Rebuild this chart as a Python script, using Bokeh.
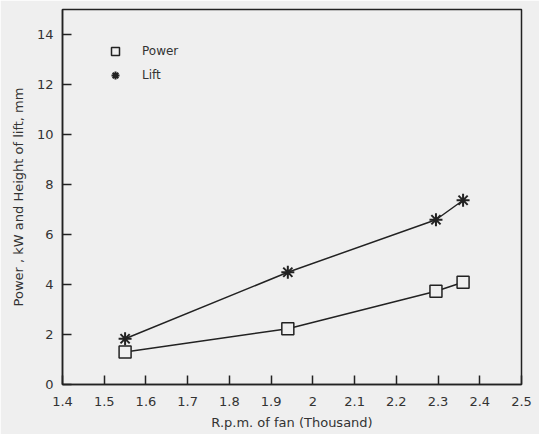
from bokeh.plotting import figure
from bokeh.models import FixedTicker, Legend, LegendItem
from bokeh.embed import file_html
from bokeh.resources import INLINE

rpm_power = [1.55, 1.94, 2.295, 2.36]
power_kw = [1.3, 2.23, 3.73, 4.09]
rpm_lift = [1.55, 1.94, 2.295, 2.36]
lift_mm = [1.83, 4.49, 6.59, 7.37]

x_ticks = [1.4, 1.5, 1.6, 1.7, 1.8, 1.9, 2.0, 2.1, 2.2, 2.3, 2.4, 2.5]
x_tick_labels = ["1.4", "1.5", "1.6", "1.7", "1.8", "1.9", "2", "2.1", "2.2", "2.3", "2.4", "2.5"]
y_ticks = [0, 2, 4, 6, 8, 10, 12, 14]

FONT = "DejaVu Sans"
BG = "#efefef"

p = figure(width=539, height=434, output_backend="svg", toolbar_location=None,
           x_range=(1.4, 2.5), y_range=(0, 15),
           min_border_left=62, min_border_right=18, min_border_top=9, min_border_bottom=50)
p.background_fill_color = BG
p.border_fill_color = BG
p.outline_line_color = "#222222"
p.outline_line_width = 1.5
p.grid.visible = False

p.xaxis.ticker = FixedTicker(ticks=x_ticks)
p.xaxis.major_label_overrides = {t: l for t, l in zip(x_ticks, x_tick_labels)}
p.yaxis.ticker = FixedTicker(ticks=y_ticks)
for ax in (p.xaxis, p.yaxis):
    ax.minor_tick_line_color = None
    ax.major_tick_in = 9
    ax.major_tick_out = 0
    ax.major_tick_line_width = 1.5
    ax.major_tick_line_color = "#222222"
    ax.axis_line_color = "#222222"
    ax.axis_line_width = 1.5
    ax.major_label_text_font = FONT
    ax.major_label_text_font_size = "13px"
    ax.major_label_text_color = "#333333"
    ax.axis_label_text_font = FONT
    ax.axis_label_text_font_size = "13px"
    ax.axis_label_text_font_style = "normal"
    ax.axis_label_text_color = "#333333"
p.xaxis.axis_label = "R.p.m. of fan (Thousand)"
p.yaxis.axis_label = "Power , kW and Height of lift, mm"
p.xaxis.major_label_standoff = 12
p.yaxis.major_label_standoff = 9
p.xaxis.axis_label_standoff = 6
p.yaxis.axis_label_standoff = 8

p.line(rpm_lift, lift_mm, line_color="#222222", line_width=1.5)
p.line(rpm_power, power_kw, line_color="#222222", line_width=1.5)
r_power = p.scatter(rpm_power, power_kw, marker="square", size=12, fill_color=BG,
                    line_color="#222222", line_width=1.5)
r_lift = p.scatter(rpm_lift, lift_mm, marker="asterisk", size=13,
                   line_color="#222222", line_width=2)

legend = Legend(items=[LegendItem(label="Power", renderers=[r_power]),
                       LegendItem(label="Lift", renderers=[r_lift])],
                location=(43, 299), border_line_color=None, background_fill_alpha=0,
                label_text_font=FONT, label_text_font_size="12px", label_text_color="#333333",
                glyph_width=20, glyph_height=20, label_height=20, label_standoff=17,
                spacing=4, padding=5, margin=0)
p.add_layout(legend)

open("out.html", "w").write(file_html(p, INLINE))
